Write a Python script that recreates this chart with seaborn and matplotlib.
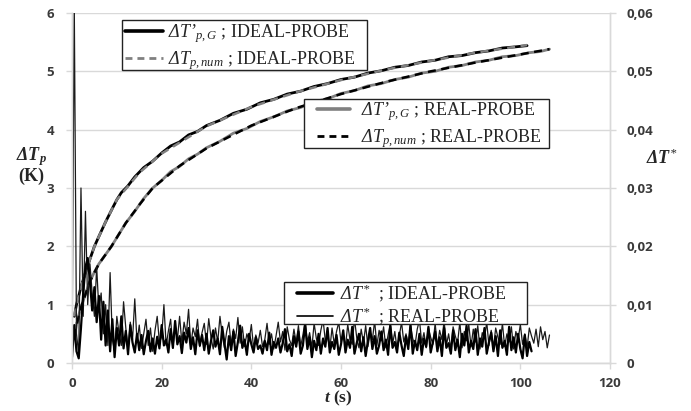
import numpy as np
import pandas as pd
import matplotlib
matplotlib.use("Agg")
import matplotlib.pyplot as plt
import seaborn as sns
from matplotlib.lines import Line2D
from matplotlib.patches import Rectangle

# ---------------------------------------------------------------------------
# Probe temperature rise ΔT_p (K)
# ---------------------------------------------------------------------------
# ideal probe, measured (ΔT'_p,G)
t_ideal_G = [0.5, 1, 1.5, 2, 3, 4, 5, 6, 7.5, 9, 10, 11, 12.4, 14, 16, 18, 20,
             22, 24, 26, 28, 30, 33, 36, 39, 42, 45, 48, 51, 54, 57, 60, 63, 66,
             69, 72, 75, 78, 81, 84, 87, 90, 93, 96, 99, 101.5]
dTp_ideal_G = [0.80, 1.00, 1.15, 1.30, 1.55, 1.78, 2.00, 2.17, 2.42, 2.65, 2.80,
               2.92, 3.03, 3.19, 3.35, 3.46, 3.60, 3.72, 3.79, 3.91, 3.97, 4.07,
               4.16, 4.28, 4.35, 4.46, 4.52, 4.61, 4.66, 4.74, 4.79, 4.86, 4.90,
               4.97, 5.01, 5.07, 5.10, 5.16, 5.19, 5.25, 5.27, 5.32, 5.35, 5.40,
               5.42, 5.44]
# ideal probe, numerical (ΔT_p,num)
t_ideal_num = [0.5, 1, 2, 3, 5, 7.5, 10, 15, 20, 30, 40, 50, 60, 70, 80, 90, 101.5]
dTp_ideal_num = [0.80, 1.00, 1.30, 1.55, 2.00, 2.42, 2.80, 3.26, 3.59, 4.06, 4.39,
                 4.64, 4.85, 5.03, 5.18, 5.32, 5.45]
# real probe, measured (ΔT'_p,G)
t_real_G = [0.5, 1, 1.5, 2.2, 3, 4, 5, 6, 7.5, 8.8, 10, 12, 14, 16, 18, 20, 22,
            24, 26, 28, 30, 33, 36, 39, 42, 45, 48, 51, 54, 57, 60, 63, 66, 69,
            72, 75, 78, 81, 84, 87, 90, 93, 96, 99, 102, 104.5, 106.5]
dTp_real_G = [0.45, 0.65, 0.82, 1.00, 1.18, 1.40, 1.56, 1.70, 1.86, 2.00, 2.15,
              2.40, 2.60, 2.82, 3.00, 3.13, 3.28, 3.37, 3.50, 3.58, 3.69, 3.80,
              3.94, 4.02, 4.14, 4.22, 4.32, 4.38, 4.48, 4.53, 4.62, 4.67, 4.75,
              4.79, 4.86, 4.90, 4.97, 5.00, 5.07, 5.10, 5.16, 5.19, 5.25, 5.27,
              5.32, 5.34, 5.38]
# real probe, numerical (ΔT_p,num)
t_real_num = [0.5, 1, 2.2, 4, 6, 8.8, 12, 15, 18, 24, 30, 40, 50, 60, 70, 80, 90,
              100, 106.5]
dTp_real_num = [0.45, 0.65, 1.00, 1.40, 1.70, 2.00, 2.40, 2.71, 3.00, 3.38, 3.68,
                4.07, 4.37, 4.61, 4.82, 5.00, 5.15, 5.29, 5.38]

# ---------------------------------------------------------------------------
# Normalised deviation ΔT*, sampled every 0.5 s (values in units of 1e-3)
# ---------------------------------------------------------------------------
sample_step = 0.5
dTstar_ideal_milli = [
    1.0, 6.5, 2.0, 0.8, 6.0, 12.0, 16.5, 18.0, 14.0, 9.0, 13.0, 7.0, 11.5, 4.0, 10.5, 3.0, 9.0, 2.0, 7.5, 1.0,
    6.0, 3.0, 8.0, 2.5, 5.5, 1.5, 6.5, 3.5, 1.8, 5.0, 2.2, 4.8, 1.5, 3.8, 5.5, 2.0, 4.2, 1.6, 4.5, 2.5,
    6.5, 3.0, 4.0, 1.8, 5.8, 2.6, 7.2, 3.2, 4.6, 1.7, 5.2, 3.5, 6.0, 2.4, 4.4, 1.5, 5.6, 3.0, 4.8, 2.2,
    5.0, 1.6, 3.8, 5.6, 2.8, 4.2, 1.5, 6.2, 3.4, 0.6, 4.6, 2.2, 5.4, 1.2, 3.6, 6.4, 2.6, 4.0, 1.4, 5.0,
    3.2, 1.8, 4.4, 2.4, 3.0, 1.6, 3.8, 2.2, 5.2, 1.4, 3.6, 2.6, 4.2, 1.8, 3.4, 5.8, 2.0, 3.2, 1.2, 4.6,
    2.8, 5.4, 1.6, 3.0, 6.6, 2.4, 4.4, 1.0, 3.8, 2.2, 5.0, 1.6, 4.2, 2.8, 6.0, 1.8, 3.6, 2.4, 4.8, 1.4,
    3.2, 5.6, 1.8, 4.0, 2.6, 6.2, 1.6, 3.4, 5.0, 2.0, 4.4, 1.2, 3.8, 6.0, 2.4, 4.6, 1.6, 3.0, 5.4, 2.2,
    4.0, 1.4, 6.4, 2.6, 3.6, 1.8, 5.2, 3.0, 1.2, 4.6, 2.4, 6.6, 1.6, 3.8, 2.2, 5.0, 1.4, 4.2, 2.8, 6.2,
    1.8, 3.6, 5.4, 2.0, 4.4, 1.2, 6.0, 2.6, 3.4, 1.6, 5.6, 2.2, 4.0, 1.0, 5.0, 3.0, 6.4, 1.8, 3.8, 2.4,
    5.8, 1.4, 4.2, 2.8, 6.0, 1.6, 3.6, 5.2, 2.0, 4.6, 1.2, 5.6, 2.6, 3.8, 1.4, 6.2, 2.2, 4.4, 1.8, 5.0,
    2.4, 0.8, 4.8, 1.2, 3.6, 2.0,
]
dTstar_real_milli = [
    0.5, 62.0, 5.0, 1.5, 30.0, 8.0, 26.0, 10.0, 17.0, 12.0, 8.0, 16.5, 9.0, 12.0, 5.0, 10.0, 3.0, 15.5, 4.0, 2.0,
    8.0, 5.0, 3.0, 10.5, 6.0, 2.0, 7.0, 4.0, 11.0, 3.5, 6.5, 2.5, 5.0, 7.5, 3.0, 6.0, 2.0, 5.5, 8.0, 3.5,
    4.5, 10.0, 3.0, 5.5, 7.5, 2.5, 6.5, 4.0, 8.0, 3.5, 7.0, 5.0, 9.2, 3.0, 6.0, 4.5, 7.5, 2.8, 5.2, 6.8,
    3.2, 7.6, 4.4, 2.4, 6.0, 3.6, 8.0, 4.8, 2.6, 5.4, 7.0, 3.0, 5.8, 4.2, 7.8, 3.4, 6.2, 2.8, 5.0, 3.8,
    6.6, 2.6, 4.8, 3.4, 5.6, 2.8, 4.0, 6.8, 3.2, 5.0, 2.4, 4.6, 7.0, 3.6, 5.4, 2.2, 6.2, 4.0, 3.0, 5.8,
    3.4, 6.4, 2.8, 4.8, 7.2, 3.6, 5.2, 2.6, 6.8, 4.2, 3.0, 5.6, 7.4, 3.8, 4.6, 2.4, 6.0, 3.2, 5.4, 7.0,
    3.6, 5.0, 2.8, 6.6, 4.0, 3.2, 7.6, 4.4, 2.6, 5.8, 3.4, 6.4, 2.8, 5.2, 4.0, 7.2, 3.0, 5.6, 3.8, 6.2,
    2.6, 4.8, 6.8, 3.2, 5.4, 2.4, 4.6, 7.0, 3.6, 5.0, 2.8, 6.4, 4.2, 3.0, 5.8, 7.4, 3.4, 5.2, 2.6, 6.0,
    4.4, 3.2, 6.8, 2.8, 5.6, 4.0, 7.2, 3.0, 5.0, 2.4, 6.2, 4.6, 3.4, 7.0, 2.6, 5.4, 3.8, 6.6, 2.8, 5.8,
    3.6, 6.4, 2.4, 5.2, 4.2, 7.0, 3.0, 5.6, 2.6, 6.0, 4.4, 3.2, 6.8, 2.8, 5.0, 3.6, 6.2, 2.4, 5.4, 4.0,
    6.6, 3.2, 5.0, 2.6, 6.0, 4.6, 3.4, 5.8, 2.8, 6.2, 4.0, 5.4, 2.6, 4.8,
]

# axis ticks
x_ticks = [0, 20, 40, 60, 80, 100, 120]
left_ticks = [0, 1, 2, 3, 4, 5, 6]
right_ticks = [0, 0.01, 0.02, 0.03, 0.04, 0.05, 0.06]
right_tick_labels = ["0", "0,01", "0,02", "0,03", "0,04", "0,05", "0,06"]

# ---------------------------------------------------------------------------
sns.set_theme(style="white")
plt.rcParams.update({
    "font.family": ["Liberation Serif", "DejaVu Serif"],
    "mathtext.fontset": "custom",
    "mathtext.rm": "Liberation Serif:italic",
    "mathtext.it": "Liberation Serif:italic",
    "mathtext.bf": "Liberation Serif:bold:italic",
})

GRAY = "#808080"
GRID = "#d9d9d9"
TICKTXT = "#3a3a3a"

star_ideal = pd.DataFrame({
    "t": np.arange(len(dTstar_ideal_milli)) * sample_step,
    "v": np.array(dTstar_ideal_milli) / 1000.0,
})
star_real = pd.DataFrame({
    "t": np.arange(len(dTstar_real_milli)) * sample_step,
    "v": np.array(dTstar_real_milli) / 1000.0,
})

fig = plt.figure(figsize=(6.91, 4.11), dpi=100)
ax = fig.add_axes([0.1042, 0.1168, 0.7786, 0.8516])
ax2 = ax.twinx()

# ΔT* noise on the right axis
sns.lineplot(data=star_real, x="t", y="v", ax=ax2, color="#1a1a1a", lw=0.9,
             estimator=None, sort=False, legend=False)
sns.lineplot(data=star_ideal, x="t", y="v", ax=ax2, color="black", lw=1.6,
             estimator=None, sort=False, legend=False)

# heating curves on the left axis
dash = (0, (3.2, 2.2))
sns.lineplot(x=t_ideal_G, y=dTp_ideal_G, ax=ax, color="black", lw=2.0,
             estimator=None, sort=False, legend=False)
sns.lineplot(x=t_ideal_num, y=dTp_ideal_num, ax=ax, color=GRAY, lw=1.8,
             linestyle=dash, estimator=None, sort=False, legend=False)
sns.lineplot(x=t_real_G, y=dTp_real_G, ax=ax, color=GRAY, lw=2.0,
             estimator=None, sort=False, legend=False)
sns.lineplot(x=t_real_num, y=dTp_real_num, ax=ax, color="black", lw=1.8,
             linestyle=dash, estimator=None, sort=False, legend=False)

# axes
ax.set_xlim(0, 120)
ax.set_ylim(0, 6)
ax2.set_ylim(0, 0.06)
ax.set_xticks(x_ticks)
ax.set_yticks(left_ticks)
ax2.set_yticks(right_ticks)
ax2.set_yticklabels(right_tick_labels)
ax.set_xlabel("")
ax.set_ylabel("")
ax2.set_ylabel("")
ax.grid(axis="y", color=GRID, lw=1.0)
ax.grid(axis="x", visible=False)
ax2.grid(False)

tickfont = dict(family="Open Sans", weight="bold", size=9.5)
for a in (ax, ax2):
    for s in a.spines.values():
        s.set_color(GRID)
        s.set_linewidth(1.0)
    a.spines["top"].set_visible(False)
ax.tick_params(axis="y", left=True, length=4, width=1, color=GRID, pad=9,
               labelcolor=TICKTXT)
ax.tick_params(axis="x", bottom=True, length=4, width=1, color=GRID, pad=6,
               labelcolor=TICKTXT)
ax2.tick_params(axis="y", right=True, length=4, width=1, color=GRID, pad=8,
                labelcolor=TICKTXT)
for lab in ax.get_xticklabels() + ax.get_yticklabels() + ax2.get_yticklabels():
    lab.set_fontproperties(tickfont)
    lab.set_color(TICKTXT)

# axis titles
fig.text(0.045, 0.598, "$\\mathbf{\\Delta T}_{\\mathbf{p}}$\n(K)", ha="center",
         va="center", ma="center", fontsize=13, fontweight="bold",
         linespacing=1.0)
fig.text(0.958, 0.616, "$\\mathbf{\\Delta T}^{*}$", ha="center", va="center",
         fontsize=13, fontweight="bold")
fig.text(0.49, 0.03, "$\\mathbf{t}$ (s)", ha="center", va="center",
         fontsize=12.5, fontweight="bold")


# legends: white boxes with a thin dark frame, entries placed inside
def px_to_axes(px, py):
    return (px - 72) / 538.0, (363 - py) / 350.0


def legend_box(x0, y0, x1, y1):
    ax0, ay1 = px_to_axes(x0, y0)
    ax1, ay0 = px_to_axes(x1, y1)
    ax2.add_patch(Rectangle((ax0, ay0), ax1 - ax0, ay1 - ay0,
                            transform=ax2.transAxes, facecolor="white",
                            edgecolor="#222222", lw=1.0, zorder=4,
                            clip_on=False))


leg_base = dict(loc="upper left", frameon=False, borderaxespad=0, borderpad=0,
                prop={"family": "Liberation Serif", "size": 13})

h1 = [Line2D([], [], color="black", lw=2.6),
      Line2D([], [], color=GRAY, lw=2.0, linestyle=(0, (2.5, 1.8)))]
l1 = ["$\\Delta T’_{p,G}$ ; IDEAL-PROBE", "$\\Delta T_{p,num}$ ; IDEAL-PROBE"]
h2 = [Line2D([], [], color=GRAY, lw=2.6),
      Line2D([], [], color="black", lw=2.0, linestyle=(0, (2.5, 1.8)))]
l2 = ["$\\Delta T’_{p,G}$ ; REAL-PROBE", "$\\Delta T_{p,num}$ ; REAL-PROBE"]
h3 = [Line2D([], [], color="black", lw=2.6),
      Line2D([], [], color="black", lw=1.2)]
l3 = ["$\\Delta T^{*}$  ; IDEAL-PROBE", "$\\Delta T^{*}$  ; REAL-PROBE"]

legend_box(122, 20, 367, 70)
legend_box(304, 99, 549, 148)
legend_box(284, 282, 527, 324)

leg1 = ax2.legend(h1, l1, bbox_to_anchor=px_to_axes(125, 22),
                  handlelength=2.1, handletextpad=0.28, labelspacing=0.25,
                  **leg_base)
ax2.add_artist(leg1)
leg2 = ax2.legend(h2, l2, bbox_to_anchor=px_to_axes(317, 100),
                  handlelength=1.83, handletextpad=0.62, labelspacing=0.22,
                  **leg_base)
ax2.add_artist(leg2)
leg3 = ax2.legend(h3, l3, bbox_to_anchor=px_to_axes(297, 282),
                  handlelength=2.0, handletextpad=0.38, labelspacing=0.1,
                  **leg_base)
for lg in (leg1, leg2, leg3):
    lg.set_zorder(6)

fig.savefig("out.png", dpi=100)
